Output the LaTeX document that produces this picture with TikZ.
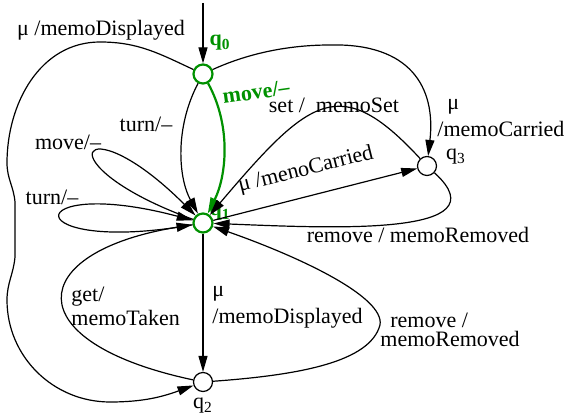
\documentclass[tikz,border=0pt]{standalone}
\usepackage{fontspec}
\setmainfont{Liberation Serif}
\usepackage{tikz}
\usetikzlibrary{arrows.meta}
\definecolor{fsmgreen}{RGB}{0,145,0}

\begin{document}
\begin{tikzpicture}[x = 0.5pt, y = 0.5pt,
  font = \fontsize{11}{12}\selectfont,
  state/.style = {circle, draw, line width = 0.6pt, minimum size = 9.5pt, inner sep = 0pt},
  hot/.style = {draw = fsmgreen, line width = 1.1pt},
  trans/.style = {line width = 0.6pt, -{Triangle[length = 8pt, width = 4.5pt]}},
  lbl/.style = {inner sep = 0pt, align = left}]
\useasboundingbox (0,0) rectangle (568,417);

\node [state, hot] (q0) at (203,343) {};
\node [state, hot] (q1) at (203,194) {};
\node [state] (q2) at (203,35) {};
\node [state] (q3) at (427,251) {};
\coordinate (init) at (203,414);

\node [fsmgreen] (t0) at (220,374) {\textbf{q\textsubscript{0}}};
\node [fsmgreen] (t1) at (220,204) {\textbf{q\textsubscript{1}}};
\node (t2) at (203,11) {q\textsubscript{2}};
\node (t3) at (456,260) {q\textsubscript{3}};

\draw [trans] (init) -- (q0);
\draw [trans, hot] (q0) .. controls (232,290) and (226,240) .. (q1);
\draw [trans] (q0) .. controls (175,290) and (178,240) .. (q1);
\draw [trans] (q1) .. controls (40,253) and (81,316) .. (q1);
\draw [trans] (q1) .. controls (15,161) and (18,243) .. (q1);
\draw [trans] (q0) to [out=155, in=0] (100,375) to [out=180, in=90] (7,254)
  to [out=-90, in=95] (15,215) -- (15,160) to [out=-95, in=90] (7,117)
  to [out=-90, in=180] (110,15) to [out=0, in=200] (q2);
\draw [trans] (q0) .. controls (240,360) and (280,372) .. (330,372)
  .. controls (410,374) and (436,330) .. (q3);
\draw [trans] (q3) .. controls (340,345) and (310,320) .. (q1);
\draw [trans] (q1) -- (q3);
\draw [trans] (q3) .. controls (505,180) and (330,189) .. (q1);
\draw [trans] (q2) .. controls (300,42) and (370,55) .. (380,92)
  .. controls (385,120) and (300,160) .. (q1);
\draw [trans] (q1) -- (q2);
\draw [trans] (q2) .. controls (15,75) and (25,165) .. (q1);

\node [lbl] (l0) at (101,387) {μ /memoDisplayed};
\node [lbl, fsmgreen, rotate = 8] (l1) at (256,325) {\textbf{move/–}};
\node [lbl] (l2) at (146,293) {turn/–};
\node [lbl] (l3) at (68,275) {move/–};
\node [lbl] (l4) at (52,220) {turn/–};
\node [lbl] (l5) at (334,312) {set /~ memoSet};
\node [lbl, anchor = west] (l6) at (437,299) {\hspace{5pt}μ\\[1.5pt]/memoCarried};
\node [lbl, rotate = 14] (l7) at (306,247) {μ /menoCarried};
\node [lbl] (l8) at (418,182) {remove / memoRemoved};
\node [lbl, anchor = west] (l9) at (380,87) {\hspace{5pt}remove /\\[-2.5pt]memoRemoved};
\node [lbl, anchor = west] (l10) at (212,110) {μ\\[1.5pt]/memoDisplayed};
\node [lbl, anchor = west] (l11) at (71,111) {get/\\memoTaken};
\end{tikzpicture}
\end{document}
